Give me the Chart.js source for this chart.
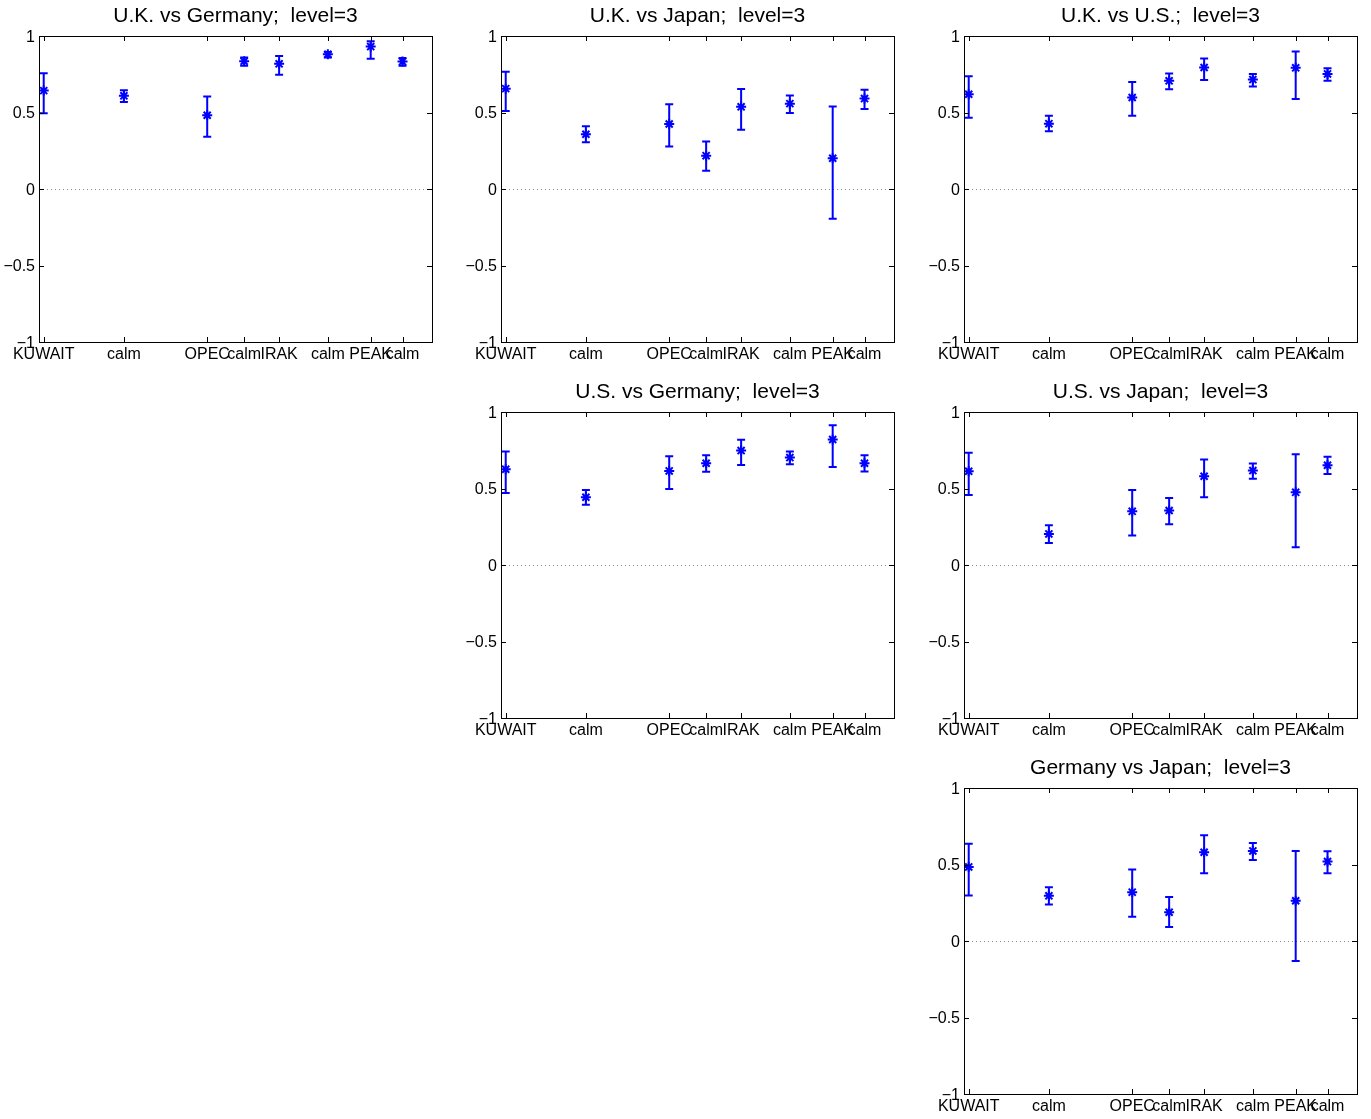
<!DOCTYPE html>
<html>
<head>
<meta charset="utf-8">
<script src="https://cdn.jsdelivr.net/npm/chart.js@4.4.1/dist/chart.umd.min.js"></script>
<style>
  html, body { margin: 0; padding: 0; background: #fff; overflow: hidden; }
  canvas { position: absolute; }
</style>
</head>
<body>
<canvas id="ukGer" width="450" height="366" style="left:0px;top:0px"></canvas>
<canvas id="ukJap" width="450" height="366" style="left:462px;top:0px"></canvas>
<canvas id="ukUs" width="450" height="366" style="left:925px;top:0px"></canvas>
<canvas id="usGer" width="450" height="366" style="left:462px;top:376px"></canvas>
<canvas id="usJap" width="450" height="366" style="left:925px;top:376px"></canvas>
<canvas id="gerJap" width="450" height="366" style="left:925px;top:752px"></canvas>
<script>
// episodes on the x axis (position on a 0..100 time scale)
const eventLabels = ['KUWAIT', 'calm', 'OPEC', 'calm', 'IRAK', 'calm', 'PEAK', 'calm'];
const eventPos = [1.2, 21.6, 42.8, 52.2, 61.1, 73.5, 84.4, 92.5];
const yTicks = [-1, -0.5, 0, 0.5, 1];

// correlation estimates with lower / upper bounds
const ukGerMid = [0.643, 0.609, 0.482, 0.835, 0.818, 0.881, 0.931, 0.833];
const ukGerLo  = [0.495, 0.569, 0.342, 0.805, 0.746, 0.859, 0.851, 0.805];
const ukGerHi  = [0.757, 0.646, 0.604, 0.859, 0.870, 0.896, 0.966, 0.857];

const ukJapMid = [0.656, 0.358, 0.425, 0.218, 0.537, 0.558, 0.201, 0.591];
const ukJapLo  = [0.510, 0.305, 0.277, 0.120, 0.388, 0.497, -0.194, 0.523];
const ukJapHi  = [0.766, 0.410, 0.554, 0.310, 0.654, 0.611, 0.539, 0.648];

const ukUsMid = [0.619, 0.427, 0.598, 0.707, 0.794, 0.715, 0.792, 0.752];
const ukUsLo  = [0.465, 0.377, 0.478, 0.652, 0.713, 0.670, 0.589, 0.707];
const ukUsHi  = [0.737, 0.478, 0.700, 0.755, 0.853, 0.752, 0.899, 0.790];

const usGerMid = [0.626, 0.443, 0.615, 0.665, 0.748, 0.702, 0.820, 0.665];
const usGerLo  = [0.471, 0.393, 0.497, 0.609, 0.654, 0.659, 0.641, 0.611];
const usGerHi  = [0.742, 0.491, 0.711, 0.718, 0.818, 0.742, 0.914, 0.718];

const usJapMid = [0.613, 0.203, 0.351, 0.356, 0.580, 0.617, 0.475, 0.652];
const usJapLo  = [0.458, 0.144, 0.192, 0.266, 0.443, 0.563, 0.116, 0.595];
const usJapHi  = [0.733, 0.260, 0.491, 0.438, 0.689, 0.663, 0.724, 0.707];

const gerJapMid = [0.484, 0.295, 0.319, 0.188, 0.580, 0.589, 0.263, 0.519];
const gerJapLo  = [0.298, 0.239, 0.158, 0.092, 0.442, 0.530, -0.131, 0.442];
const gerJapHi  = [0.635, 0.352, 0.468, 0.287, 0.691, 0.641, 0.589, 0.586];

const blue = '#0000ff';
const fontFamily = "'Liberation Sans', Arial, Helvetica, sans-serif";

// box, inward ticks, dotted zero line and error bars (matlab look)
const matlabBox = {
  id: 'matlabBox',
  beforeDatasetsDraw(chart) {
    const { ctx, chartArea: a, scales: { x, y } } = chart;
    ctx.save();
    ctx.strokeStyle = '#8c8c8c';
    ctx.lineWidth = 1;
    ctx.setLineDash([1, 3]);
    const y0 = Math.round(y.getPixelForValue(0)) + 0.5;
    ctx.beginPath();
    ctx.moveTo(a.left, y0);
    ctx.lineTo(a.right, y0);
    ctx.stroke();
    ctx.restore();

    chart.data.datasets.forEach((ds) => {
      ctx.save();
      ctx.strokeStyle = ds.borderColor;
      ctx.lineWidth = 2;
      ds.data.forEach((pt, i) => {
        const px = x.getPixelForValue(pt.x);
        const top = y.getPixelForValue(ds.hi[i]);
        const bot = y.getPixelForValue(ds.lo[i]);
        ctx.beginPath();
        ctx.moveTo(px, top); ctx.lineTo(px, bot);
        ctx.moveTo(px - 4, top); ctx.lineTo(px + 4, top);
        ctx.moveTo(px - 4, bot); ctx.lineTo(px + 4, bot);
        ctx.stroke();
      });
      ctx.restore();
    });
  },
  afterDraw(chart) {
    const { ctx, chartArea: a, scales: { x, y } } = chart;
    const tl = 5;
    ctx.save();
    ctx.strokeStyle = '#000';
    ctx.lineWidth = 1;
    ctx.beginPath();
    x.ticks.forEach((t) => {
      const px = Math.round(x.getPixelForValue(t.value)) + 0.5;
      ctx.moveTo(px, a.bottom); ctx.lineTo(px, a.bottom - tl);
      ctx.moveTo(px, a.top); ctx.lineTo(px, a.top + tl);
    });
    y.ticks.forEach((t) => {
      const py = Math.round(y.getPixelForValue(t.value)) + 0.5;
      ctx.moveTo(a.left, py); ctx.lineTo(a.left + tl, py);
      ctx.moveTo(a.right, py); ctx.lineTo(a.right - tl, py);
    });
    ctx.stroke();
    ctx.strokeRect(Math.round(a.left) + 0.5, Math.round(a.top) + 0.5,
      Math.round(a.right - a.left), Math.round(a.bottom - a.top));
    ctx.restore();
  },
};

function fmtY(v) {
  if (v === 0) return '0';
  return v < 0 ? '\u2212' + Math.abs(v) : String(v);
}

function makePanel(id, title, mid, lo, hi) {
  new Chart(document.getElementById(id), {
    type: 'scatter',
    data: {
      datasets: [{
        data: eventPos.map((p, i) => ({ x: p, y: mid[i] })),
        lo: lo,
        hi: hi,
        borderColor: blue,
        backgroundColor: blue,
        pointStyle: 'star',
        pointRadius: 5,
        pointBorderWidth: 2,
        showLine: false,
      }],
    },
    options: {
      responsive: false,
      animation: false,
      events: [],
      layout: { padding: { left: 0, right: 18, top: 0, bottom: 0 } },
      plugins: {
        legend: { display: false },
        tooltip: { enabled: false },
        title: {
          display: true,
          text: title,
          fullSize: false,
          color: '#000',
          font: { family: fontFamily, size: 21, weight: 'normal' },
          padding: { top: 4, bottom: 6.8 },
        },
      },
      scales: {
        x: {
          type: 'linear',
          min: 0,
          max: 100,
          grid: { display: false, drawTicks: false },
          border: { display: false },
          afterBuildTicks: (s) => { s.ticks = eventPos.map((v) => ({ value: v })); },
          afterFit: (s) => { s.height = 24; },
          ticks: {
            autoSkip: false,
            maxRotation: 0,
            minRotation: 0,
            padding: 3,
            color: '#000',
            font: { family: fontFamily, size: 16 },
            callback: (v, i) => eventLabels[i],
          },
        },
        y: {
          min: -1,
          max: 1,
          grid: { display: false, drawTicks: false },
          border: { display: false },
          afterBuildTicks: (s) => { s.ticks = yTicks.map((v) => ({ value: v })); },
          afterFit: (s) => { s.width = 39; },
          ticks: {
            padding: 4,
            labelOffset: 1.5,
            color: '#000',
            font: { family: fontFamily, size: 16 },
            callback: (v) => fmtY(v),
          },
        },
      },
    },
    plugins: [matlabBox],
  });
}

makePanel('ukGer', 'U.K. vs Germany;  level=3', ukGerMid, ukGerLo, ukGerHi);
makePanel('ukJap', 'U.K. vs Japan;  level=3', ukJapMid, ukJapLo, ukJapHi);
makePanel('ukUs', 'U.K. vs U.S.;  level=3', ukUsMid, ukUsLo, ukUsHi);
makePanel('usGer', 'U.S. vs Germany;  level=3', usGerMid, usGerLo, usGerHi);
makePanel('usJap', 'U.S. vs Japan;  level=3', usJapMid, usJapLo, usJapHi);
makePanel('gerJap', 'Germany vs Japan;  level=3', gerJapMid, gerJapLo, gerJapHi);
</script>
</body>
</html>
